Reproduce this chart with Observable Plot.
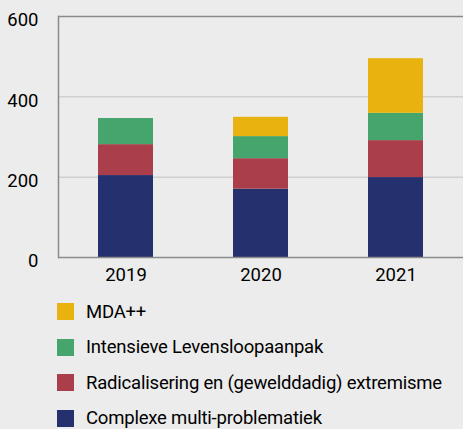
<!DOCTYPE html>
<html>
<head>
<meta charset="utf-8">
<script src="https://cdn.jsdelivr.net/npm/d3@7"></script>
<script src="https://cdn.jsdelivr.net/npm/@observablehq/plot@0.6"></script>
<style>
  html, body { margin: 0; padding: 0; background: #ececec; }
  body { width: 463px; height: 429px; overflow: hidden; position: relative; font-family: Roboto, "Noto Sans", sans-serif; }
  #chart { position: absolute; left: 0; top: 0; }
  #chart svg { display: block; }
  #legend { position: absolute; left: 57px; top: 294px; }
  .row { display: flex; align-items: center; height: 35.5px; }
  .sw { width: 17px; height: 17px; margin-right: 12px; flex: none; }
  .lab { font-size: 18.5px; font-weight: 400; color: #000; white-space: nowrap; letter-spacing: -0.2px; }
</style>
</head>
<body>
<div id="chart"></div>
<div id="legend"></div>
<script>
const years = ["2019", "2020", "2021"];
const seriesNames = ["Complexe multi-problematiek", "Radicalisering en (gewelddadig) extremisme", "Intensieve Levensloopaanpak", "MDA++"];
const complexe = [204, 170, 199];
const radicalisering = [77, 76, 92];
const intensieve = [65, 55, 68];
const mda = [0, 48, 136];
const colors = ["#25306e", "#aa3e4a", "#46a56c", "#e8b30f"];
const yTicks = [0, 200, 400, 600];

const seriesValues = [complexe, radicalisering, intensieve, mda];
const data = [];
years.forEach((y, i) => {
  seriesNames.forEach((s, j) => {
    data.push({year: y, series: s, value: seriesValues[j][i]});
  });
});

const chart = Plot.plot({
  width: 463,
  height: 290,
  marginTop: 16,
  marginLeft: 58,
  marginRight: 0,
  marginBottom: 33,
  style: {background: "#ececec", fontFamily: "Roboto, sans-serif", fontSize: "18px", color: "#000"},
  x: {domain: years, padding: 0, label: null},
  y: {domain: [0, 600], label: null},
  color: {domain: seriesNames, range: colors},
  marks: [
    Plot.ruleY([200, 400], {stroke: "#d0d0d0", strokeWidth: 1.5}),
    Plot.ruleY([600], {stroke: "#8a8a8a", strokeWidth: 1.5}),
    Plot.barY(data, {x: "year", y: "value", fill: "series", insetLeft: 40, insetRight: 40}),
    Plot.ruleY([0], {stroke: "#8a8a8a", strokeWidth: 1.5}),
    Plot.axisY({ticks: yTicks, tickSize: 0, tickPadding: 20, dy: 4, fontSize: 18.5, label: null}),
    Plot.axisX({tickSize: 0, tickPadding: 10, fontSize: 18.5, label: null}),
    Plot.frame({anchor: "left", stroke: "#8a8a8a", strokeWidth: 1.5})
  ]
});
document.getElementById("chart").appendChild(chart);

const legend = document.getElementById("legend");
[...seriesNames].reverse().forEach((s) => {
  const i = seriesNames.indexOf(s);
  const row = document.createElement("div");
  row.className = "row";
  const sw = document.createElement("div");
  sw.className = "sw";
  sw.style.background = colors[i];
  const lab = document.createElement("span");
  lab.className = "lab";
  lab.textContent = s;
  row.appendChild(sw);
  row.appendChild(lab);
  legend.appendChild(row);
});
</script>
</body>
</html>
